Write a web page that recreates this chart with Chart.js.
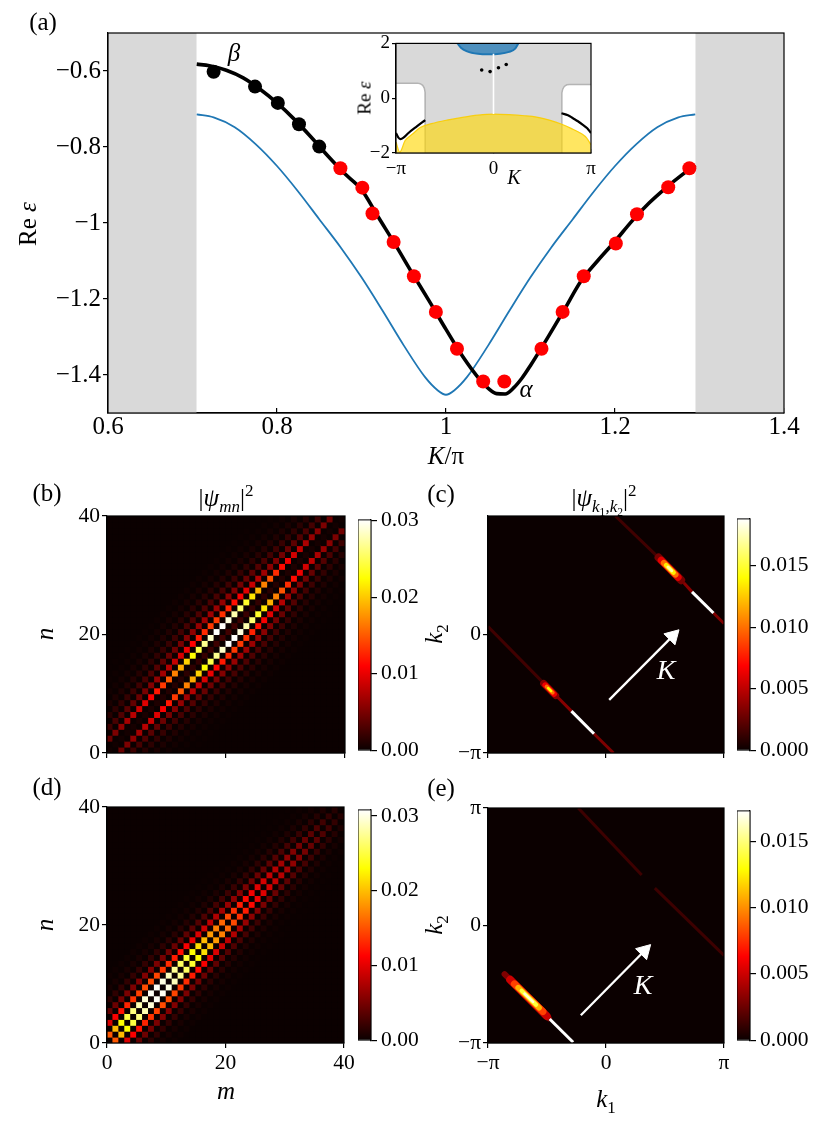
<!DOCTYPE html>
<html><head><meta charset="utf-8">
<script src="https://cdn.jsdelivr.net/npm/chart.js@4.4.1/dist/chart.umd.min.js"></script>
<style>
html,body{margin:0;padding:0;background:#fff;}
#wrap{position:relative;width:830px;height:1128px;overflow:hidden;background:#fff;font-family:'Liberation Serif',serif;}
canvas{position:absolute;}
.t{position:absolute;transform:translate(-50%,-50%);white-space:nowrap;color:#000;line-height:1;z-index:5;font-family:'Liberation Serif',serif;}
.r{transform:translate(-50%,-50%) rotate(-90deg);}
sub,sup{font-size:68%;line-height:0;}
</style></head><body><div id="wrap">
<canvas id="cA"></canvas><canvas id="cIn"></canvas>
<canvas id="cB"></canvas><canvas id="cbB"></canvas>
<canvas id="cC"></canvas><canvas id="cbC"></canvas>
<canvas id="cD"></canvas><canvas id="cbD"></canvas>
<canvas id="cE"></canvas><canvas id="cbE"></canvas>

<div class="t" style="left:43px;top:21px;font-size:25px">(a)</div>
<div class="t r" style="left:27px;top:224px;font-size:25px">Re&nbsp;<i>ε</i></div>
<div class="t" style="left:446px;top:455px;font-size:25px"><i>K</i>/π</div>
<div class="t" style="left:234px;top:52px;font-size:25px"><i>β</i></div>
<div class="t" style="left:526px;top:388px;font-size:25px"><i>α</i></div>
<div class="t r" style="left:364px;top:98px;font-size:19px">Re&nbsp;<i>ε</i></div>
<div class="t" style="left:514px;top:177px;font-size:20px"><i>K</i></div>
<div class="t" style="left:47px;top:492px;font-size:25px">(b)</div>
<div class="t" style="left:441px;top:493px;font-size:25px">(c)</div>
<div class="t" style="left:47px;top:786px;font-size:25px">(d)</div>
<div class="t" style="left:441px;top:787px;font-size:25px">(e)</div>
<div class="t" style="left:226px;top:497px;font-size:25px">|<i>ψ</i><sub><i>mn</i></sub>|<sup>2</sup></div>
<div class="t" style="left:604px;top:499px;font-size:25px">|<i>ψ</i><sub><i>k</i><sub>1</sub>,<i>k</i><sub>2</sub></sub>|<sup>2</sup></div>
<div class="t r" style="left:44px;top:634px;font-size:25px"><i>n</i></div>
<div class="t r" style="left:44px;top:925px;font-size:25px"><i>n</i></div>
<div class="t" style="left:226px;top:1090px;font-size:25px"><i>m</i></div>
<div class="t r" style="left:433px;top:634px;font-size:25px"><i>k</i><sub>2</sub></div>
<div class="t r" style="left:433px;top:925px;font-size:25px"><i>k</i><sub>2</sub></div>
<div class="t" style="left:606px;top:1098px;font-size:25px"><i>k</i><sub>1</sub></div>
<div class="t" style="left:666px;top:670px;font-size:28px;color:#fff"><i>K</i></div>
<div class="t" style="left:643px;top:985px;font-size:28px;color:#fff"><i>K</i></div>
</div>
<script>
const PI = Math.PI;
// ================= DATA =================
// ---- panel (a) ----
const A_X_TICKS = [0.6, 0.8, 1.0, 1.2, 1.4];
const A_X_LABELS = ['0.6', '0.8', '1', '1.2', '1.4'];
const A_Y_TICKS = [-1.4, -1.2, -1.0, -0.8, -0.6];
const A_Y_LABELS = ['−1.4', '−1.2', '−1', '−0.8', '−0.6'];
const A_GRAY_LEFT_K = [0.6, 0.705];
const A_GRAY_RIGHT_K = [1.295, 1.4];
const A_GRAY_TOP_E = [-0.5, -0.5];
const A_CURVE_K = [0.705,0.72,0.74,0.76,0.78,0.80,0.82,0.84,0.86,0.88,0.90,0.92,0.94,0.96,0.98,1.00,1.02,1.04,1.05,1.06,1.07,1.08,1.09,1.10,1.12,1.14,1.16,1.18,1.20,1.22,1.24,1.26,1.28,1.295];
const A_CURVE_E = [-0.582,-0.586,-0.598,-0.618,-0.648,-0.684,-0.726,-0.773,-0.823,-0.870,-0.912,-0.985,-1.057,-1.132,-1.205,-1.280,-1.352,-1.412,-1.435,-1.449,-1.450,-1.434,-1.408,-1.375,-1.303,-1.228,-1.152,-1.098,-1.048,-0.995,-0.948,-0.908,-0.872,-0.848];
const A_BLUE_K = [0.705,0.725,0.75,0.775,0.80,0.825,0.85,0.875,0.90,0.925,0.95,0.975,0.99,1.0,1.01,1.025,1.05,1.075,1.10,1.125,1.15,1.175,1.20,1.225,1.25,1.275,1.295];
const A_BLUE_E = [-0.714,-0.722,-0.748,-0.793,-0.850,-0.917,-0.990,-1.063,-1.143,-1.231,-1.322,-1.405,-1.440,-1.452,-1.440,-1.405,-1.322,-1.231,-1.143,-1.063,-0.990,-0.917,-0.850,-0.793,-0.748,-0.722,-0.714];
const A_BLACK_DOT_K = [0.725,0.774,0.801,0.826,0.850];
const A_BLACK_DOT_E = [-0.602,-0.641,-0.684,-0.740,-0.799];
const A_RED_DOT_K = [0.875,0.901,0.913,0.938,0.962,0.988,1.013,1.044,1.069,1.113,1.138,1.163,1.201,1.226,1.263,1.288];
const A_RED_DOT_E = [-0.856,-0.907,-0.975,-1.050,-1.140,-1.234,-1.331,-1.417,-1.417,-1.331,-1.234,-1.140,-1.054,-0.977,-0.906,-0.856];

// ---- inset ----
const IN_X_TICKS = [-PI, 0, PI];
const IN_X_LABELS = ['−π', '0', 'π'];
const IN_Y_TICKS = [-2, 0, 2];
const IN_Y_LABELS = ['−2', '0', '2'];
const IN_BG_K = [-PI, PI];
const IN_BG_E = [2, 2];
const IN_WHITE_L_K = [-PI,-2.45,-2.36,-2.28,-2.23,-2.205,-2.2,-2.2];
const IN_WHITE_L_E = [0.55,0.55,0.53,0.47,0.37,0.22,0.05,-2];
const IN_WHITE_R_K = [2.2,2.2,2.205,2.23,2.28,2.36,2.45,PI];
const IN_WHITE_R_E = [-2,0.05,0.2,0.33,0.43,0.49,0.5,0.5];
const IN_YELLOW_K = [-PI,-3.02,-2.85,-2.6,-2.36,-2.0,-1.5,-1.0,-0.5,0,0.5,1.0,1.39,1.8,2.2,2.5,2.84,3.0,PI];
const IN_YELLOW_E = [-1.6,-1.97,-1.55,-1.3,-1.07,-0.93,-0.8,-0.7,-0.62,-0.58,-0.6,-0.64,-0.69,-0.8,-0.95,-1.1,-1.3,-1.45,-1.7];
const IN_BLUE_K = [-1.16,-1.05,-0.85,-0.5,-0.17,0.2,0.5,0.7,0.8];
const IN_BLUE_E = [2,1.84,1.71,1.62,1.6,1.62,1.69,1.81,2];
const IN_LINE0_K = [0, 0];
const IN_LINE0_E = [1.62, -0.58];
const IN_BLACK_L_K = [-PI,-3.07,-3.0,-2.9,-2.74,-2.47,-2.2];
const IN_BLACK_L_E = [-1.27,-1.43,-1.49,-1.44,-1.27,-1.03,-0.8];
const IN_BLACK_R_K = [2.19,2.4,2.56,2.72,2.88,3.02,PI];
const IN_BLACK_R_E = [-0.55,-0.62,-0.73,-0.84,-0.97,-1.1,-1.27];
const IN_DOT_K = [-0.38,-0.11,0.16,0.41];
const IN_DOT_E = [1.03,0.97,1.11,1.23];

// ---- panels (b),(d): |psi_mn|^2 on a 40x40 lattice ----
const MN_TICKS = [0, 20, 40];
const MN_LABELS = ['0', '20', '40'];
const N_SITES = 40;
// value on diagonal m-n = d is  weight(d) * ridge(m+n)
const B_BAND_OFFSETS = [-14,-12,-10,-8,-6,-4,-2,0,2,4,6,8,10,12,14];
const B_BAND_WEIGHTS = [0.008,0.02,0.045,0.1,0.22,0.45,1,0.08,1,0.45,0.22,0.1,0.045,0.02,0.008];
const B_RIDGE = [0.0036,0.0042,0.0051,0.006,0.0069,0.0078,0.0087,0.0096,0.0108,0.012,
                 0.0135,0.015,0.0168,0.0186,0.0204,0.0225,0.0246,0.0267,0.0285,0.030,
                 0.030,0.0291,0.0276,0.0258,0.0237,0.0213,0.0189,0.0168,0.0147,0.0129,
                 0.0114,0.0102,0.009,0.0081,0.0072,0.0063,0.0057,0.0051,0.0045,0.0036]; // m+n = 0,2,...,78
const B_VMAX = 0.0301;
const B_CB_TICKS = [0, 0.01, 0.02, 0.03];
const B_CB_LABELS = ['0.00', '0.01', '0.02', '0.03'];
const D_BAND_OFFSETS = [-11,-9,-7,-5,-3,-1,1,3,5,7,9,11];
const D_BAND_WEIGHTS = [0.008,0.02,0.06,0.18,0.48,1,1,0.48,0.18,0.06,0.02,0.008];
const D_RIDGE = [0.0153,0.0198,0.0229,0.025,0.0268,0.0284,0.0296,0.0305,0.0305,0.0299,
                 0.0287,0.0275,0.0259,0.0244,0.0229,0.0214,0.0198,0.0183,0.0171,0.0159,
                 0.0146,0.0134,0.0125,0.0116,0.0107,0.0098,0.0092,0.0085,0.0079,0.007,
                 0.0061,0.0055,0.0049,0.0043,0.0037,0.0031,0.0024,0.0018,0.0012]; // m+n = 1,3,...,77
const D_VMAX = 0.0308;
const D_CB_TICKS = [0, 0.01, 0.02, 0.03];
const D_CB_LABELS = ['0.00', '0.01', '0.02', '0.03'];

// ---- panels (c),(e): |psi_k1k2|^2 streaks (segments along k1+k2 = K) ----
const K_TICKS = [-PI, 0, PI];
const K_LABELS = ['−π', '0', 'π'];
const C_Y_TICKS = [-PI, 0];
const C_Y_LABELS = ['−π', '0'];
const C_SEG_K1A = [-PI,-1.30,-0.32,0.25,2.07,2.86,  -1.66,-1.62,-1.58,-1.54,  1.40,1.47,1.54,1.60,1.65];
const C_SEG_K2A = [0.21,-1.65,-2.63,PI,1.37,0.57,   -1.30,-1.34,-1.38,-1.42,  2.04,1.97,1.90,1.84,1.79];
const C_SEG_K1B = [-1.68,-0.92,0.20,1.40,2.29,PI,   -1.34,-1.38,-1.42,-1.46,  2.00,1.92,1.85,1.80,1.75];
const C_SEG_K2B = [-1.27,-2.03,-PI,2.04,1.13,0.29,  -1.62,-1.58,-1.54,-1.50,  1.44,1.52,1.59,1.64,1.69];
const C_SEG_VAL = [0.0015,0.0035,0.0032,0.0015,0.0035,0.0032, 0.0035,0.0065,0.010,0.014, 0.003,0.006,0.010,0.0135,0.017];
const C_DASH_K1 = [[-0.92,-0.32],[2.29,2.86]];
const C_DASH_K2 = [[-2.03,-2.63],[1.13,0.57]];
const C_ARROW_K1 = [0.085, 1.774];
const C_ARROW_K2 = [-1.733, -0.044];
const C_VMAX = 0.0188;
const CE_CB_TICKS = [0, 0.005, 0.010, 0.015];
const CE_CB_LABELS = ['0.000', '0.005', '0.010', '0.015'];
const E_SEG_K1A = [-0.74,1.30,-2.70,-2.55,-2.44,-2.34,-2.25,-2.17];
const E_SEG_K2A = [PI,1.00,-1.30,-1.45,-1.56,-1.66,-1.74,-1.82];
const E_SEG_K1B = [0.95,PI,-1.52,-1.58,-1.68,-1.78,-1.86,-1.94];
const E_SEG_K2B = [1.35,-0.80,-2.48,-2.42,-2.30,-2.20,-2.12,-2.04];
const E_SEG_VAL = [0.0013,0.0013,0.003,0.005,0.008,0.011,0.014,0.0165];
const E_DASH_K1 = [[-1.50,-0.875]];
const E_DASH_K2 = [[-2.50,-3.12]];
const E_ARROW_K1 = [-0.67, 1.019];
const E_ARROW_K2 = [-2.40, -0.681];
const E_VMAX = 0.0173;

// ================= STYLE / HELPERS =================
const FONT = 'Liberation Serif';
Chart.defaults.font.family = FONT;
Chart.defaults.color = '#000';
Chart.defaults.animation = false;
Chart.defaults.events = [];
Chart.defaults.plugins.legend.display = false;
Chart.defaults.plugins.tooltip.enabled = false;

const C_SEG_W = [3,3,3,3,3,3, 7,5.5,4,2.5, 8,7,6,4.5,3];
const E_SEG_W = [3,3,6,8,7,5.5,4,2.5];

function hot(f) {
  f = Math.max(0, Math.min(1, f));
  const a = 0.365079, b = 0.746032;
  const r = f < a ? 0.0416 + (1 - 0.0416) * f / a : 1;
  const g = f < a ? 0 : (f < b ? (f - a) / (b - a) : 1);
  const bl = f < b ? 0 : (f - b) / (1 - b);
  return 'rgb(' + Math.round(r*255) + ',' + Math.round(g*255) + ',' + Math.round(bl*255) + ')';
}
const pts = (xs, ys) => xs.map((x, i) => ({x: x, y: ys[i]}));

const framePlugin = {
  id: 'frame',
  afterDatasetsDraw(chart, args, o) {
    if (!o || !o.show) return;
    const a = chart.chartArea, ctx = chart.ctx;
    ctx.save(); ctx.strokeStyle = o.color || '#000'; ctx.lineWidth = o.width || 1.2;
    ctx.strokeRect(a.left, a.top, a.right - a.left, a.bottom - a.top); ctx.restore();
  }
};

function setup(id, rect, m) {
  const c = document.getElementById(id);
  const w = Math.round(rect[2] - rect[0] + m.l + m.r), h = Math.round(rect[3] - rect[1] + m.t + m.b);
  c.width = w; c.height = h;
  c.style.left = (rect[0] - m.l) + 'px'; c.style.top = (rect[1] - m.t) + 'px';
  c.style.width = w + 'px'; c.style.height = h + 'px';
  return c;
}
function linAxis(o) {
  const horiz = o.pos === 'bottom' || o.pos === 'top';
  return {
    type: 'linear', position: o.pos, min: o.min, max: o.max, bounds: 'data',
    afterBuildTicks: s => { s.ticks = o.vals.map(v => ({value: v})); },
    afterFit: s => { if (horiz) s.height = o.size; else s.width = o.size; },
    ticks: { display: o.show !== false, autoSkip: false, maxRotation: 0, minRotation: 0,
             padding: o.pad == null ? 2 : o.pad, font: {family: FONT, size: o.font}, color: '#000',
             callback: (v, i) => o.labels[i] },
    grid: { drawOnChartArea: false, drawTicks: true, tickLength: o.tick == null ? 5 : o.tick, color: '#000', lineWidth: 1.2 },
    border: { display: true, color: '#000', width: 1.2 }
  };
}
const clear = 'rgba(0,0,0,0)';

// ================= PANEL (a) =================
(function () {
  const m = {l: 108, t: 33, r: 46, b: 47};
  const c = setup('cA', [108, 33, 784, 413], m);
  new Chart(c, {
    type: 'line',
    data: { datasets: [
      {data: pts(A_RED_DOT_K, A_RED_DOT_E), showLine: false, pointRadius: 7, pointBackgroundColor: '#ff0000', pointBorderWidth: 0, pointBorderColor: clear, order: 1},
      {data: pts(A_BLACK_DOT_K, A_BLACK_DOT_E), showLine: false, pointRadius: 7, pointBackgroundColor: '#000', pointBorderWidth: 0, pointBorderColor: clear, order: 2},
      {data: pts(A_CURVE_K, A_CURVE_E), borderColor: '#000', borderWidth: 3.6, pointRadius: 0, cubicInterpolationMode: 'monotone', order: 3},
      {data: pts(A_BLUE_K, A_BLUE_E), borderColor: '#1f77b4', borderWidth: 1.8, pointRadius: 0, cubicInterpolationMode: 'monotone', order: 4},
      {data: pts(A_GRAY_LEFT_K, A_GRAY_TOP_E), fill: 'start', backgroundColor: '#d9d9d9', borderColor: clear, borderWidth: 0, pointRadius: 0, order: 10},
      {data: pts(A_GRAY_RIGHT_K, A_GRAY_TOP_E), fill: 'start', backgroundColor: '#d9d9d9', borderColor: clear, borderWidth: 0, pointRadius: 0, order: 11}
    ]},
    options: { responsive: false, layout: {padding: {left: 0, top: m.t, right: m.r, bottom: 0}},
      scales: {
        x: linAxis({min: 0.6, max: 1.4, pos: 'bottom', size: m.b, vals: A_X_TICKS, labels: A_X_LABELS, font: 25, pad: 4, tick: -5}),
        y: linAxis({min: -1.5, max: -0.5, pos: 'left', size: m.l, vals: A_Y_TICKS, labels: A_Y_LABELS, font: 25, pad: 2})
      },
      plugins: {frame: {show: true}} },
    plugins: [framePlugin]
  });
})();

// ================= INSET =================
(function () {
  const m = {l: 56, t: 13, r: 19, b: 42};
  const c = setup('cIn', [396, 43, 591, 153], m);
  new Chart(c, {
    type: 'line',
    data: { datasets: [
      {data: pts(IN_DOT_K, IN_DOT_E), showLine: false, pointRadius: 1.8, pointBackgroundColor: '#000', pointBorderWidth: 0, pointBorderColor: clear, order: 1},
      {data: pts(IN_BLACK_L_K, IN_BLACK_L_E), borderColor: '#000', borderWidth: 2.2, pointRadius: 0, cubicInterpolationMode: 'monotone', order: 2},
      {data: pts(IN_BLACK_R_K, IN_BLACK_R_E), borderColor: '#000', borderWidth: 2.2, pointRadius: 0, cubicInterpolationMode: 'monotone', order: 3},
      {data: pts(IN_LINE0_K, IN_LINE0_E), borderColor: '#fff', borderWidth: 1.6, pointRadius: 0, order: 4},
      {data: pts(IN_BLUE_K, IN_BLUE_E), fill: 'end', backgroundColor: 'rgba(31,119,180,0.75)', borderColor: '#1f77b4', borderWidth: 2, pointRadius: 0, cubicInterpolationMode: 'monotone', order: 5},
      {data: pts(IN_YELLOW_K, IN_YELLOW_E), fill: 'start', backgroundColor: 'rgba(255,214,0,0.62)', borderColor: 'rgba(250,205,0,0.9)', borderWidth: 1.2, pointRadius: 0, cubicInterpolationMode: 'monotone', order: 6},
      {data: pts(IN_WHITE_L_K, IN_WHITE_L_E), fill: 'start', backgroundColor: '#fff', borderColor: '#b4b4b4', borderWidth: 1.5, pointRadius: 0, tension: 0, order: 7},
      {data: pts(IN_WHITE_R_K, IN_WHITE_R_E), fill: 'start', backgroundColor: '#fff', borderColor: '#b4b4b4', borderWidth: 1.5, pointRadius: 0, tension: 0, order: 8},
      {data: pts(IN_BG_K, IN_BG_E), fill: 'start', backgroundColor: '#d9d9d9', borderColor: clear, borderWidth: 0, pointRadius: 0, order: 20}
    ]},
    options: { responsive: false, layout: {padding: {left: 0, top: m.t, right: m.r, bottom: 0}},
      scales: {
        x: linAxis({min: -PI, max: PI, pos: 'bottom', size: m.b, vals: IN_X_TICKS, labels: IN_X_LABELS, font: 19, pad: 9, tick: -4}),
        y: linAxis({min: -2, max: 2, pos: 'left', size: m.l, vals: IN_Y_TICKS, labels: IN_Y_LABELS, font: 19, pad: 2, tick: 4})
      },
      plugins: {frame: {show: true}} },
    plugins: [framePlugin]
  });
})();

// ================= HEATMAPS (b),(d) =================
function latticeCells(offsets, weights, ridge, parityOdd) {
  const cells = [];
  for (let mm = 0; mm < N_SITES; mm++) {
    for (let nn = 0; nn < N_SITES; nn++) {
      const d = mm - nn, s = mm + nn;
      const k = offsets.indexOf(d);
      let v = 0;
      if (k >= 0) {
        const idx = parityOdd ? (s - 1) / 2 : s / 2;
        if (idx >= 0 && idx < ridge.length) v = weights[k] * ridge[idx];
      }
      cells.push({x: mm + 0.5, y: nn + 0.5, v: v});
    }
  }
  return cells;
}
function heatMN(id, rect, cells, vmax, showX) {
  const m = {l: 80, t: 16, r: 16, b: 50};
  const c = setup(id, rect, m);
  new Chart(c, {
    type: 'line',
    data: { datasets: [
      {data: cells, showLine: false, pointStyle: 'rect', pointBorderWidth: 0, pointBorderColor: clear, clip: 0, order: 1,
       pointRadius: ctx => { const a = ctx.chart.chartArea; return a ? (a.right - a.left) / N_SITES / 2 * Math.SQRT2 + 0.7 : 3; },
       pointBackgroundColor: ctx => hot(ctx.raw ? ctx.raw.v / vmax : 0)},
      {data: pts([0, 40], [40, 40]), fill: 'start', backgroundColor: hot(0), borderColor: clear, borderWidth: 0, pointRadius: 0, order: 5}
    ]},
    options: { responsive: false, layout: {padding: {left: 0, top: m.t, right: m.r, bottom: 0}},
      scales: {
        x: linAxis({min: 0, max: 40, pos: 'bottom', size: m.b, vals: MN_TICKS, labels: MN_LABELS, font: 21.5, pad: 2, show: showX}),
        y: linAxis({min: 0, max: 40, pos: 'left', size: m.l, vals: MN_TICKS, labels: MN_LABELS, font: 21.5, pad: 2})
      },
      plugins: {frame: {show: true}} },
    plugins: [framePlugin]
  });
}
function colorbar(id, rect, vmax, vals, labels) {
  const m = {l: 0, t: 14, r: 80, b: 14};
  const c = setup(id, rect, m);
  new Chart(c, {
    type: 'bar',
    data: { labels: ['cb'], datasets: [{ data: [vmax], borderWidth: 0, barPercentage: 1, categoryPercentage: 1,
      backgroundColor: ctx => {
        const ch = ctx.chart, a = ch.chartArea; if (!a) return '#000';
        const g = ch.ctx.createLinearGradient(0, a.bottom, 0, a.top);
        [0, 0.365079, 0.746032, 1].forEach(f => g.addColorStop(f, hot(f)));
        return g;
      } }]},
    options: { responsive: false, layout: {padding: {left: 0, top: m.t, right: 0, bottom: m.b}},
      scales: {
        x: {display: false},
        y: linAxis({min: 0, max: vmax, pos: 'right', size: m.r, vals: vals, labels: labels, font: 21.5, pad: 4, tick: 6})
      },
      plugins: {frame: {show: true, width: 1}} },
    plugins: [framePlugin]
  });
}
heatMN('cB', [107, 516, 345, 753], latticeCells(B_BAND_OFFSETS, B_BAND_WEIGHTS, B_RIDGE, false), B_VMAX, false);
colorbar('cbB', [358, 517, 371, 753], B_VMAX, B_CB_TICKS, B_CB_LABELS);
heatMN('cD', [107, 807, 344, 1043], latticeCells(D_BAND_OFFSETS, D_BAND_WEIGHTS, D_RIDGE, true), D_VMAX, true);
colorbar('cbD', [358, 807, 371, 1043], D_VMAX, D_CB_TICKS, D_CB_LABELS);

// ================= K-SPACE (c),(e) =================
function heatK(id, rect, seg, widths, dashK1, dashK2, arrK1, arrK2, vmax, showX, yTicks, yLabels) {
  const m = {l: 80, t: 16, r: 16, b: 50};
  const c = setup(id, rect, m);
  const ds = [];
  ds.push({data: pts([-PI, PI], [PI, PI]), fill: 'start', backgroundColor: hot(0), borderColor: clear, borderWidth: 0, pointRadius: 0, order: 50});
  seg.k1a.forEach((k, i) => {
    ds.push({data: pts([seg.k1a[i], seg.k1b[i]], [seg.k2a[i], seg.k2b[i]]), borderColor: hot(seg.val[i] / vmax),
      borderWidth: widths[i], borderCapStyle: i < seg.round0 ? 'butt' : 'round', pointRadius: 0, clip: 0, order: 40 - i});
  });
  dashK1.forEach((k, i) => {
    ds.push({data: pts(dashK1[i], dashK2[i]), borderColor: '#fff', borderWidth: 3, pointRadius: 0, clip: 0, order: 3});
  });
  ds.push({data: pts(arrK1, arrK2), borderColor: '#fff', borderWidth: 2.3, pointRadius: 0, clip: 0, order: 2});
  ds.push({data: [{x: arrK1[1], y: arrK2[1]}], showLine: false, pointStyle: 'triangle', pointRotation: 45, pointRadius: 9,
    pointBackgroundColor: '#fff', pointBorderColor: '#fff', pointBorderWidth: 1, order: 1});
  new Chart(c, {
    type: 'line',
    data: {datasets: ds},
    options: { responsive: false, layout: {padding: {left: 0, top: m.t, right: m.r, bottom: 0}},
      scales: {
        x: linAxis({min: -PI, max: PI, pos: 'bottom', size: m.b, vals: K_TICKS, labels: K_LABELS, font: 21.5, pad: 2, show: showX}),
        y: linAxis({min: -PI, max: PI, pos: 'left', size: m.l, vals: yTicks, labels: yLabels, font: 21.5, pad: 2})
      },
      plugins: {frame: {show: true}} },
    plugins: [framePlugin]
  });
}
heatK('cC', [488, 516, 724, 753],
  {k1a: C_SEG_K1A, k2a: C_SEG_K2A, k1b: C_SEG_K1B, k2b: C_SEG_K2B, val: C_SEG_VAL, round0: 6},
  C_SEG_W, C_DASH_K1, C_DASH_K2, C_ARROW_K1, C_ARROW_K2, C_VMAX, false, C_Y_TICKS, C_Y_LABELS);
colorbar('cbC', [737, 516, 750, 753], C_VMAX, CE_CB_TICKS, CE_CB_LABELS);
heatK('cE', [488, 808, 724, 1043],
  {k1a: E_SEG_K1A, k2a: E_SEG_K2A, k1b: E_SEG_K1B, k2b: E_SEG_K2B, val: E_SEG_VAL, round0: 2},
  E_SEG_W, E_DASH_K1, E_DASH_K2, E_ARROW_K1, E_ARROW_K2, E_VMAX, true, K_TICKS, K_LABELS);
colorbar('cbE', [737, 808, 750, 1043], E_VMAX, CE_CB_TICKS, CE_CB_LABELS);
</script>
</body></html>
